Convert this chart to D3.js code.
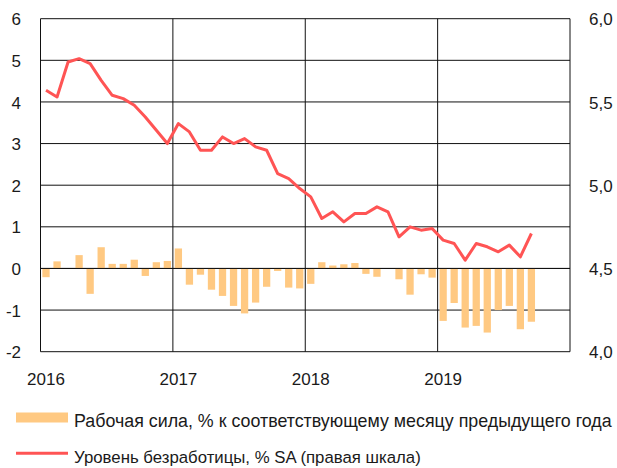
<!DOCTYPE html>
<html><head><meta charset="utf-8">
<script src="https://cdn.jsdelivr.net/npm/d3@7"></script>
<style>
html,body{margin:0;padding:0;background:#fff;}
svg{display:block;}
text{font-family:"Liberation Sans",Arial,sans-serif;fill:#1a1a1a;}
</style></head>
<body>
<svg id="chart" width="617" height="468"></svg>
<script>
// ---- data ----
const months = [
 "2016-01","2016-02","2016-03","2016-04","2016-05","2016-06","2016-07","2016-08","2016-09","2016-10","2016-11","2016-12",
 "2017-01","2017-02","2017-03","2017-04","2017-05","2017-06","2017-07","2017-08","2017-09","2017-10","2017-11","2017-12",
 "2018-01","2018-02","2018-03","2018-04","2018-05","2018-06","2018-07","2018-08","2018-09","2018-10","2018-11","2018-12",
 "2019-01","2019-02","2019-03","2019-04","2019-05","2019-06","2019-07","2019-08","2019-09"
];
const laborForce = [
 -0.21, 0.17, 0.00, 0.32, -0.61, 0.51, 0.11, 0.11, 0.21, -0.18, 0.15, 0.18,
  0.48, -0.39, -0.15, -0.51, -0.66, -0.90, -1.08, -0.82, -0.44, -0.06, -0.46, -0.48,
 -0.37, 0.15, 0.07, 0.10, 0.13, -0.13, -0.20, 0.00, -0.26, -0.63, -0.14, -0.22,
 -1.26, -0.83, -1.42, -1.38, -1.54, -1.00, -0.90, -1.46, -1.28
];
const unemployment = [
 5.57, 5.53, 5.74, 5.76, 5.73, 5.63, 5.54, 5.52, 5.48, 5.41, 5.33, 5.25,
 5.37, 5.32, 5.21, 5.21, 5.29, 5.25, 5.28, 5.23, 5.21, 5.07, 5.04, 4.98,
 4.93, 4.80, 4.84, 4.78, 4.83, 4.83, 4.87, 4.84, 4.69, 4.75, 4.73, 4.74,
 4.67, 4.65, 4.55, 4.65, 4.63, 4.60, 4.64, 4.57, 4.71
];
const years = ["2016","2017","2018","2019"];
const leftTicks = [-2,-1,0,1,2,3,4,5,6];
const rightTicks = [4.0,4.5,5.0,5.5,6.0];
const legendLabels = [
 "Рабочая сила, % к соответствующему месяцу предыдущего года",
 "Уровень безработицы, % SA (правая шкала)"
];

// ---- layout ----
const L = 40.5, R = 570, T = 18.7, B = 351.7;
const barColor = "#FFC982", lineColor = "#FF5454";

const allMonths = d3.utcMonth.range(new Date(Date.UTC(2016,0,1)), new Date(Date.UTC(2020,0,1)))
  .map(d => d3.utcFormat("%Y-%m")(d));
const x = d3.scaleBand().domain(allMonths).range([L, R]).paddingInner(0);
const yL = d3.scaleLinear().domain([-2, 6]).range([B, T]);
const yR = d3.scaleLinear().domain([4, 6]).range([B, T]);

const svg = d3.select("#chart");

// grid
const g = svg.append("g");
g.selectAll("line.h").data(leftTicks).join("line")
  .attr("x1", L).attr("x2", R).attr("y1", d => yL(d)).attr("y2", d => yL(d))
  .attr("stroke", "#111").attr("stroke-width", 1);
g.selectAll("line.v").data(years.map(y => y + "-01").concat(["end"])).join("line")
  .attr("x1", d => d === "end" ? R : x(d)).attr("x2", d => d === "end" ? R : x(d))
  .attr("y1", T).attr("y2", B)
  .attr("stroke", "#111").attr("stroke-width", 1);

// bars
const bw = x.bandwidth() * 0.66;
svg.append("g").selectAll("rect").data(months).join("rect")
  .attr("x", d => x(d) + x.bandwidth()/2 - bw/2)
  .attr("width", bw)
  .attr("y", (d,i) => Math.min(yL(0), yL(laborForce[i])))
  .attr("height", (d,i) => Math.abs(yL(laborForce[i]) - yL(0)))
  .attr("fill", barColor);

// zero line redraw on top
svg.append("line").attr("x1", L).attr("x2", R).attr("y1", yL(0)).attr("y2", yL(0))
  .attr("stroke", "#111").attr("stroke-width", 1);

// line
const line = d3.line()
  .x((d,i) => x(months[i]) + x.bandwidth()/2)
  .y(d => yR(d));
svg.append("path").datum(unemployment)
  .attr("d", line).attr("fill", "none")
  .attr("stroke", lineColor).attr("stroke-width", 3).attr("stroke-linejoin", "round");

// axes labels
const leftAxis = d3.axisLeft(yL).tickValues(leftTicks).tickSize(0).tickPadding(0).tickFormat(d => String(d));
const la = svg.append("g").attr("transform", `translate(21,0)`).call(leftAxis);
la.select(".domain").remove();
la.selectAll("text").attr("font-size", 17).attr("fill", "#1a1a1a").attr("font-family", "Liberation Sans, Arial, sans-serif").attr("dy", "0.36em");

const fmtR = v => d3.format(".1f")(v).replace(".", ",");
const rightAxis = d3.axisRight(yR).tickValues(rightTicks).tickSize(0).tickPadding(0).tickFormat(fmtR);
const ra = svg.append("g").attr("transform", `translate(589,0)`).call(rightAxis);
ra.select(".domain").remove();
ra.selectAll("text").attr("font-size", 17).attr("fill", "#1a1a1a").attr("font-family", "Liberation Sans, Arial, sans-serif").attr("dy", "0.36em");

const xa = svg.append("g").attr("transform", `translate(0,${B})`)
  .call(d3.axisBottom(x).tickValues(years.map(y => y + "-01")).tickSize(0).tickPadding(0)
    .tickFormat(d => d.slice(0,4)));
xa.select(".domain").remove();
xa.selectAll("text").attr("font-size", 17).attr("fill", "#1a1a1a").attr("font-family", "Liberation Sans, Arial, sans-serif")
  .attr("y", 33).attr("dy", 0);

// legend
const lg = svg.append("g");
lg.append("rect").attr("x", 16).attr("y", 412.5).attr("width", 52).attr("height", 10).attr("fill", barColor);
lg.append("line").attr("x1", 16).attr("x2", 68).attr("y1", 453.3).attr("y2", 453.3)
  .attr("stroke", lineColor).attr("stroke-width", 3);
const targetW = [538, 347];
legendLabels.forEach((t, i) => {
  const tx = lg.append("text").attr("x", 74).attr("y", i === 0 ? 426.5 : 463)
    .attr("font-family", "'Liberation Sans Narrow', 'Liberation Sans', Arial, sans-serif")
    .attr("font-size", 17).text(t);
  const w = tx.node().getComputedTextLength();
  tx.attr("font-size", Math.min(19, 17 * targetW[i] / w));
});
</script>
</body></html>
